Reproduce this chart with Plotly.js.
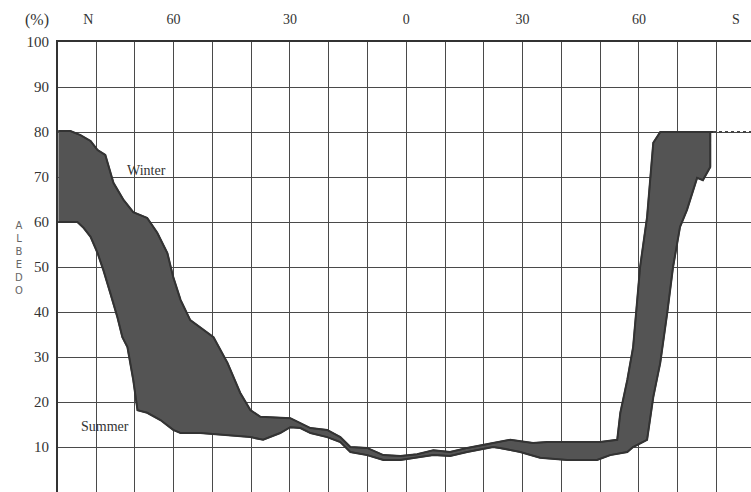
<!DOCTYPE html>
<html>
<head>
<meta charset="utf-8">
<script src="https://cdn.plot.ly/plotly-3.0.1.min.js"></script>
<style>html,body{margin:0;padding:0;background:#fff;}#chart{width:751px;height:492px;}</style>
</head>
<body>
<div id="chart"></div>
<script>
// Latitude in degrees (+ = north, - = south), albedo in %
var winterLat = [89.7, 86.6, 84.0, 81.4, 79.6, 77.6, 75.5, 72.9, 70.4, 66.8, 64.2, 61.6, 60.1, 58.2, 55.7, 52.3, 49.7, 46.1, 42.8, 40.2, 37.6, 29.9, 27.3, 24.7, 20.4, 17.0, 14.4, 10.1, 5.9, 1.5, -2.8, -7.0, -11.3, -15.7, -22.4, -26.8, -32.7, -36.3, -50.0, -54.4, -55.2, -57.0, -58.5, -60.3, -62.1, -62.9, -63.7, -65.5, -79.1];
var winterAlbedo = [80.2, 80.2, 79.3, 78.0, 76.0, 74.9, 68.7, 64.9, 62.2, 60.9, 57.6, 53.1, 47.8, 42.7, 38.2, 36.0, 34.4, 28.7, 22.0, 18.2, 16.7, 16.4, 15.3, 14.2, 13.8, 12.2, 10.0, 9.8, 8.2, 8.0, 8.4, 9.3, 8.9, 9.8, 10.9, 11.6, 10.9, 11.1, 11.1, 11.6, 17.6, 24.9, 32.2, 50.0, 61.1, 68.7, 77.6, 80.0, 80.0];

var summerLat = [89.7, 84.8, 83.2, 81.4, 79.6, 78.1, 76.3, 74.5, 73.2, 71.9, 70.4, 69.3, 66.8, 63.4, 60.1, 58.2, 53.1, 40.2, 36.9, 32.5, 29.9, 27.3, 24.7, 20.4, 17.0, 14.4, 10.1, 5.9, 1.5, -2.8, -7.0, -11.3, -15.7, -22.4, -24.2, -29.4, -34.5, -41.5, -49.2, -52.6, -57.0, -58.5, -62.1, -63.7, -65.5, -67.3, -68.8, -70.6, -72.4, -75.0, -76.5, -78.4, -78.4, -79.1];
var summerAlbedo = [60.0, 60.0, 58.7, 56.7, 53.1, 49.3, 44.2, 38.9, 34.4, 32.2, 24.9, 18.2, 17.6, 16.0, 13.8, 13.1, 13.1, 12.2, 11.6, 13.1, 14.4, 14.2, 13.1, 12.2, 11.1, 8.9, 8.2, 7.1, 7.1, 7.6, 8.2, 8.0, 8.9, 10.0, 9.8, 8.9, 7.6, 7.1, 7.1, 8.2, 8.9, 10.0, 11.6, 21.1, 28.7, 39.8, 50.0, 58.9, 62.7, 69.8, 69.3, 72.2, 80.0, 80.0];

var polarLat = [-79.1, -88.9];
var polarAlbedo = [80, 80];

var gridLat = [80, 70, 60, 50, 40, 30, 20, 10, 0, -10, -20, -30, -40, -50, -60, -70, -80];
var latTickVals = [82, 60, 30, 0, -30, -60, -85];
var latTickText = ['N', '60', '30', '0', '30', '60', 'S'];
var albedoTicks = [0, 10, 20, 30, 40, 50, 60, 70, 80, 90, 100];

var serif = 'Liberation Serif, Times New Roman, serif';
var xRange = [89.8, -88.9];

// band polygon: winter edge forward, summer edge backward
var bandLat = winterLat.concat(summerLat.slice().reverse());
var bandAlbedo = winterAlbedo.concat(summerAlbedo.slice().reverse());

var traces = [
  {x: bandLat, y: bandAlbedo, type: 'scatter', mode: 'lines', fill: 'toself', fillcolor: '#545454',
   line: {color: '#3a3a3a', width: 1.5}, hoverinfo: 'skip'},
  {x: winterLat, y: winterAlbedo, type: 'scatter', mode: 'lines', name: 'Winter',
   line: {color: '#333', width: 2}, hoverinfo: 'skip'},
  {x: summerLat, y: summerAlbedo, type: 'scatter', mode: 'lines', name: 'Summer',
   line: {color: '#333', width: 2}, hoverinfo: 'skip'},
  {x: polarLat, y: polarAlbedo, type: 'scatter', mode: 'lines', name: 'polar',
   line: {color: '#444', width: 2, dash: 'dot'}, hoverinfo: 'skip'},
  {x: latTickVals, y: latTickVals.map(function(){return null;}), xaxis: 'x2', type: 'scatter', mode: 'lines', showlegend: false, hoverinfo: 'skip'}
];

var layout = {
  width: 751, height: 492,
  margin: {l: 58, r: 0, t: 42, b: 0},
  paper_bgcolor: '#fff', plot_bgcolor: '#fff',
  showlegend: false,
  font: {family: serif, size: 14, color: '#333'},
  xaxis: {range: xRange, tickvals: gridLat, showticklabels: false, ticks: '',
          showgrid: true, gridcolor: '#4a4a4a', gridwidth: 1, zeroline: false,
          showline: true, linecolor: '#bbb', linewidth: 1, mirror: false},
  xaxis2: {range: xRange, overlaying: 'x', side: 'top', tickvals: latTickVals, ticktext: latTickText,
           showgrid: false, zeroline: false, ticks: 'outside', ticklen: 10, tickcolor: 'rgba(0,0,0,0)',
           showline: true, linecolor: '#333', linewidth: 2, tickfont: {family: serif, size: 14, color: '#333'}},
  yaxis: {range: [0, 100], tickvals: albedoTicks, showgrid: true, gridcolor: '#4a4a4a', gridwidth: 1,
          zeroline: false, showline: true, linecolor: '#333', linewidth: 2,
          ticks: 'outside', ticklen: 4, tickcolor: 'rgba(0,0,0,0)',
          tickfont: {family: serif, size: 15, color: '#333'}},
  annotations: [
    {text: 'Winter', x: 72.5, y: 71.5, xref: 'x', yref: 'y', showarrow: false, xanchor: 'left',
     font: {family: serif, size: 14, color: '#333'}},
    {text: 'Summer', x: 84.5, y: 14.5, xref: 'x', yref: 'y', showarrow: false, xanchor: 'left',
     font: {family: serif, size: 14, color: '#333'}},
    {text: '(%)', showarrow: false, xref: 'paper', yref: 'paper',
     x: (37 - 58) / (751 - 58), y: 1 + (42 - 20) / 450,
     xanchor: 'center', yanchor: 'middle', font: {family: serif, size: 16, color: '#333'}},
    {text: 'A<br>L<br>B<br>E<br>D<br>O', showarrow: false, xref: 'paper', yref: 'paper',
     x: (19 - 58) / (751 - 58), y: 1 - (258 - 42) / 450,
     xanchor: 'center', yanchor: 'middle', font: {family: 'DejaVu Sans', size: 10, color: '#666'}}
  ]
};

Plotly.newPlot('chart', traces, layout, {displayModeBar: false, staticPlot: true});
</script>
</body>
</html>
